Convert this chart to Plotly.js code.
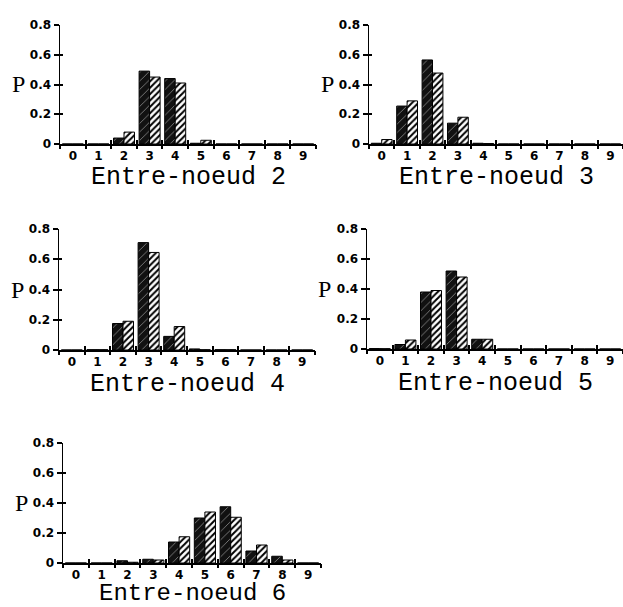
<!DOCTYPE html>
<html>
<head>
<meta charset="utf-8">
<script src="https://cdn.plot.ly/plotly-3.0.1.min.js"></script>
<style>html,body{margin:0;padding:0;background:#fff;}#chart{width:623px;height:607px;}</style>
</head>
<body>
<div id="chart"></div>
<script>
// ---- data ----
var categories = ["0","1","2","3","4","5","6","7","8","9"];
var categoryNums = [0, 1, 2, 3, 4, 5, 6, 7, 8, 9];
var yTickVals = [0, 0.2, 0.4, 0.6, 0.8];
var panelTitles = ["Entre-noeud 2","Entre-noeud 3","Entre-noeud 4","Entre-noeud 5","Entre-noeud 6"];
var en2_dark  = [0, 0, 0.04, 0.49, 0.44, 0.005, 0, 0, 0, 0];
var en2_light = [0, 0, 0.08, 0.45, 0.41, 0.025, 0, 0, 0, 0];
var en3_dark  = [0.005, 0.255, 0.565, 0.14, 0.005, 0, 0, 0, 0, 0];
var en3_light = [0.03, 0.29, 0.477, 0.18, 0.003, 0, 0, 0, 0, 0];
var en4_dark  = [0, 0.002, 0.175, 0.71, 0.09, 0.007, 0.002, 0, 0, 0];
var en4_light = [0, 0.002, 0.19, 0.645, 0.155, 0.002, 0.002, 0, 0, 0];
var en5_dark  = [0.003, 0.03, 0.38, 0.52, 0.065, 0, 0, 0, 0, 0];
var en5_light = [0.002, 0.06, 0.39, 0.48, 0.065, 0, 0, 0, 0, 0];
var en6_dark  = [0, 0, 0.015, 0.025, 0.14, 0.30, 0.375, 0.08, 0.045, 0];
var en6_light = [0, 0, 0.005, 0.02, 0.175, 0.34, 0.305, 0.12, 0.02, 0];
var darkSeries  = [en2_dark, en3_dark, en4_dark, en5_dark, en6_dark];
var lightSeries = [en2_light, en3_light, en4_light, en5_light, en6_light];

// ---- layout geometry (paper fractions) ----
var W = 623, H = 607;
function dx(a, b){ return [a / W, Math.min(1, b / W)]; }
function dy(bottom, top){ return [1 - bottom / H, 1 - top / H]; }
var panels = [
  {x: dx(60, 316),  y: dy(144, 25)},
  {x: dx(369, 625), y: dy(144, 25)},
  {x: dx(59, 315),  y: dy(350, 229)},
  {x: dx(367, 623), y: dy(349, 229)},
  {x: dx(63, 321),  y: dy(563, 443)}
];

var tickFont = {family: "DejaVu Sans", size: 12, color: "#000", weight: "bold"};
var boundaries = [];
for (var b = 0; b <= categories.length; b++) boundaries.push(b - 0.5);

var traces = [], layout = {
  width: W, height: H,
  margin: {l: 0, r: 0, t: 0, b: 0},
  paper_bgcolor: "#fff", plot_bgcolor: "rgba(0,0,0,0)",
  showlegend: false,
  bargap: 0.18, bargroupgap: 0, barmode: "group",
  annotations: []
};

panels.forEach(function(p, i){
  var n = i + 1, m = i + 6, k = i + 11;
  var xa = "x" + n, ya = "y" + n, xo = "x" + m, yo = "y" + m, xi = "x" + k;
  traces.push({
    type: "bar", x: categoryNums, y: darkSeries[i], xaxis: xa, yaxis: ya,
    marker: {color: "#111", line: {color: "#000", width: 1},
      pattern: {shape: "/", bgcolor: "#111", fgcolor: "#9a9a9a", size: 6, solidity: 0.12}},
    hoverinfo: "skip"
  });
  traces.push({
    type: "bar", x: categoryNums, y: lightSeries[i], xaxis: xa, yaxis: ya,
    marker: {color: "#fff", line: {color: "#000", width: 1},
      pattern: {shape: "/", bgcolor: "#fff", fgcolor: "#000", size: 4.5, solidity: 0.45}},
    hoverinfo: "skip"
  });
  // invisible placeholder traces so the tick-only overlay axes are drawn
  traces.push({type: "scatter", mode: "none", x: categoryNums, y: darkSeries[i], xaxis: xo, yaxis: ya, hoverinfo: "skip"});
  traces.push({type: "scatter", mode: "none", x: categoryNums, y: darkSeries[i], xaxis: xi, yaxis: ya, hoverinfo: "skip"});
  traces.push({type: "scatter", mode: "none", x: categoryNums, y: darkSeries[i], xaxis: xa, yaxis: yo, hoverinfo: "skip"});

  // main x axis: labels at category centres, no ticks
  layout["xaxis" + n] = {
    domain: p.x, anchor: ya, range: [-0.5, 9.5], tickvals: categoryNums, ticktext: categories,
    ticks: "", showline: true, linecolor: "#000", linewidth: 1.5, showgrid: false, zeroline: false,
    tickfont: tickFont, fixedrange: true
  };
  // overlay x axes: crossing ticks at category boundaries
  layout["xaxis" + m] = {
    domain: p.x, anchor: ya, overlaying: xa, side: "bottom", range: [-0.5, 9.5], tickvals: boundaries,
    ticks: "outside", ticklen: 4, tickwidth: 2, tickcolor: "#000",
    showticklabels: false, showline: false, showgrid: false, zeroline: false, fixedrange: true
  };
  layout["xaxis" + k] = {
    domain: p.x, anchor: ya, overlaying: xa, side: "bottom", range: [-0.5, 9.5], tickvals: boundaries,
    ticks: "inside", ticklen: 4, tickwidth: 2, tickcolor: "#000",
    showticklabels: false, showline: false, showgrid: false, zeroline: false, fixedrange: true
  };
  layout["yaxis" + n] = {
    domain: p.y, anchor: xa, range: [0, 0.8], tickvals: yTickVals,
    ticks: "outside", ticklen: 5, tickwidth: 2, tickcolor: "#000",
    showline: true, linecolor: "#000", linewidth: 1.5, showgrid: false, zeroline: false,
    tickfont: tickFont, fixedrange: true
  };
  layout["yaxis" + m] = {
    domain: p.y, anchor: xa, overlaying: ya, side: "left", range: [0, 0.8], tickvals: yTickVals,
    ticks: "inside", ticklen: 3, tickwidth: 2, tickcolor: "#000",
    showticklabels: false, showline: false, showgrid: false, zeroline: false, fixedrange: true
  };
  layout.annotations.push({
    text: panelTitles[i], xref: xa + " domain", yref: ya + " domain",
    x: 0.5, y: 0, yshift: (i === 4 ? -30 : -34), xanchor: "center", yanchor: "middle", showarrow: false,
    font: {family: "Liberation Mono", size: (i === 4 ? 24 : 25), color: "#000"}
  });
  layout.annotations.push({
    text: "P", xref: xa + " domain", yref: ya,
    x: 0, y: 0.4, xshift: -42, xanchor: "center", yanchor: "middle", showarrow: false,
    font: {family: "Liberation Serif", size: 24, color: "#000"}
  });
});

Plotly.newPlot("chart", traces, layout, {displayModeBar: false, staticPlot: true});
</script>
</body>
</html>
